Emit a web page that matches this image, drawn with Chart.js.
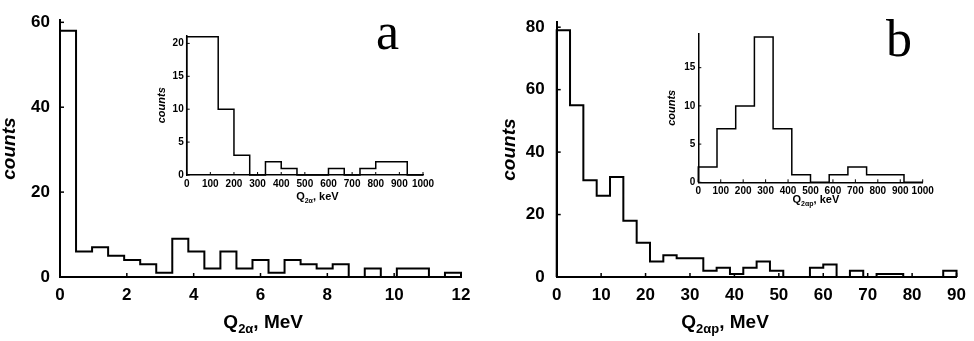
<!DOCTYPE html>
<html>
<head>
<meta charset="utf-8">
<script src="https://cdn.jsdelivr.net/npm/chart.js@4.4.1/dist/chart.umd.min.js"></script>
<style>
body { margin: 0; background: #fff; }
#wrap { position: relative; width: 974px; height: 341px; overflow: hidden; }
canvas { position: absolute; }
.tag { position: absolute; font-family: "Liberation Serif", "Times New Roman", serif; font-size: 52px; line-height: 52px; color: #000; }
</style>
</head>
<body>
<div id="wrap">
  <canvas id="mainA" width="490" height="341" style="left:0;top:0"></canvas>
  <canvas id="mainB" width="484" height="341" style="left:490px;top:0"></canvas>
  <canvas id="insetA" width="300" height="195" style="left:140px;top:20px"></canvas>
  <canvas id="insetB" width="300" height="195" style="left:640px;top:20px"></canvas>
  <div class="tag" style="left:376px;top:6px">a</div>
  <div class="tag" style="left:886px;top:13px">b</div>
</div>
<script>
// counts per bin
const q2aMeV = [58, 6, 7, 5, 4, 3, 1, 9, 6, 2, 6, 2, 4, 1, 4, 3, 2, 3, 0, 2, 0, 2, 2, 0, 1];
const q2aKeV = [21, 21, 10, 3, 0, 2, 1, 0, 0, 1, 0, 1, 2, 2, 0];
const q2apMeV = [79, 55, 31, 26, 32, 18, 11, 5, 7, 6, 6, 2, 3, 1, 3, 5, 2, 0, 0, 3, 4, 0, 2, 0, 1, 1, 0, 0, 0, 2];
const q2apKeV = [2, 7, 10, 19, 7, 1, 0, 1, 2, 1, 1, 0];

// bin widths
const binAMeV = 0.48;
const binAKeV = 1000 / 15;
const binBMeV = 3;
const binBKeV = 1000 / 12;

// tick labels
const ticksAMeV = [0, 2, 4, 6, 8, 10, 12];
const ticksBMeV = [0, 10, 20, 30, 40, 50, 60, 70, 80, 90];
const ticksKeV = [0, 100, 200, 300, 400, 500, 600, 700, 800, 900, 1000];
const countTicksA = [0, 20, 40, 60];
const countTicksB = [0, 20, 40, 60, 80];
const countTicksInA = [0, 5, 10, 15, 20];
const countTicksInB = [0, 5, 10, 15];

const FAM = '"Liberation Sans", Arial, Helvetica, sans-serif';
Chart.defaults.font.family = FAM;
Chart.defaults.color = '#000';

function steps(counts, width) {
    const pts = [{ x: 0, y: 0 }];
    counts.forEach((c, i) => pts.push({ x: i * width, y: c }));
    pts.push({ x: counts.length * width, y: 0 });
    return pts;
}

// x title with subscript
const xTitle = {
    id: 'xTitle',
    afterDraw(chart, args, o) {
        const ctx = chart.ctx;
        const big = 'bold ' + o.size + 'px ' + FAM, small = 'bold ' + o.sub + 'px ' + FAM;
        ctx.save();
        ctx.fillStyle = '#000';
        ctx.textBaseline = 'alphabetic';
        ctx.textAlign = 'left';
        ctx.font = big;
        const w1 = ctx.measureText(o.head).width, w3 = ctx.measureText(o.tail).width;
        ctx.font = small;
        const w2 = ctx.measureText(o.idx).width;
        let x = chart.scales.x.getPixelForValue(o.at) - (w1 + w2 + w3) / 2;
        ctx.font = big; ctx.fillText(o.head, x, o.y); x += w1;
        ctx.font = small; ctx.fillText(o.idx, x, o.y + o.drop); x += w2;
        ctx.font = big; ctx.fillText(o.tail, x, o.y);
        ctx.restore();
    }
};

// tick marks pointing into the plot
const inTicks = {
    id: 'inTicks',
    afterDraw(chart, args, o) {
        const { ctx, scales: { x, y }, chartArea: a } = chart;
        ctx.save();
        ctx.strokeStyle = '#000';
        ctx.lineWidth = o.w;
        x.ticks.forEach(t => {
            const px = x.getPixelForValue(t.value);
            ctx.beginPath(); ctx.moveTo(px, a.bottom); ctx.lineTo(px, a.bottom - o.len); ctx.stroke();
        });
        y.ticks.forEach(t => {
            const py = y.getPixelForValue(t.value);
            ctx.beginPath(); ctx.moveTo(a.left, py); ctx.lineTo(a.left + o.len, py); ctx.stroke();
        });
        ctx.restore();
    }
};

function histo(id, o) {
    return new Chart(document.getElementById(id), {
        type: 'line',
        data: {
            datasets: [{
                data: steps(o.counts, o.bin),
                stepped: true,
                borderColor: '#000',
                borderWidth: o.lw,
                pointRadius: 0,
                fill: false,
                clip: false
            }]
        },
        options: {
            responsive: false,
            animation: false,
            devicePixelRatio: 1,
            layout: { padding: o.pad },
            plugins: {
                legend: { display: false },
                tooltip: { enabled: false },
                xTitle: o.title,
                inTicks: { len: o.tickLen, w: o.tickW }
            },
            scales: {
                x: {
                    type: 'linear', min: 0, max: o.xMax,
                    afterFit: s => { s.height = o.xH; },
                    afterBuildTicks: s => { s.ticks = o.xTicks.map(v => ({ value: v })); },
                    grid: { display: false, drawTicks: false },
                    border: { color: '#000', width: o.lw },
                    ticks: { padding: o.xPad, font: { size: o.fs, weight: 'bold' }, autoSkip: false, maxRotation: 0, minRotation: 0, callback: v => String(v) }
                },
                y: {
                    type: 'linear', min: 0, max: o.yMax,
                    afterFit: s => { s.width = o.yW; },
                    afterBuildTicks: s => { s.ticks = o.yTicks.map(v => ({ value: v })); },
                    grid: { display: false, drawTicks: false },
                    border: { color: '#000', width: o.lw },
                    ticks: { padding: o.yPad, font: { size: o.fs, weight: 'bold' }, callback: v => String(v) },
                    title: { display: true, text: 'counts', padding: 0, font: { size: o.ts, weight: 'bold', style: 'italic', lineHeight: 1 } }
                }
            }
        },
        plugins: [xTitle, inTicks]
    });
}

histo('mainA', {
    counts: q2aMeV, bin: binAMeV, xMax: 12, yMax: 60.5, xTicks: ticksAMeV, yTicks: countTicksA,
    pad: { left: 0, right: 29, top: 9.5, bottom: 0 }, yW: 60, xH: 64,
    lw: 2, fs: 17, ts: 19, xPad: 8, yPad: 10, tickLen: 4, tickW: 1.5,
    title: { head: 'Q', idx: '2α', tail: ', MeV', size: 19, sub: 13, drop: 5, at: 6.08, y: 328 }
});

histo('mainB', {
    counts: q2apMeV, bin: binBMeV, xMax: 90, yMax: 81.6, xTicks: ticksBMeV, yTicks: countTicksB,
    pad: { left: 10.5, right: 15.7, top: 9.8, bottom: 0 }, yW: 56.2, xH: 64,
    lw: 2, fs: 17, ts: 19, xPad: 8, yPad: 12, tickLen: 4, tickW: 1.5,
    title: { head: 'Q', idx: '2αp', tail: ', MeV', size: 19, sub: 13, drop: 5, at: 37.9, y: 328 }
});

histo('insetA', {
    counts: q2aKeV, bin: binAKeV, xMax: 1000, yMax: 21.2, xTicks: ticksKeV, yTicks: countTicksInA,
    pad: { left: 16.2, right: 17, top: 15.5, bottom: 0 }, yW: 30.5, xH: 40,
    lw: 1.5, fs: 10, ts: 11, xPad: 3, yPad: 3, tickLen: 3, tickW: 1,
    title: { head: 'Q', idx: '2α', tail: ', keV', size: 11, sub: 7, drop: 3, at: 553, y: 180 }
});

histo('insetB', {
    counts: q2apKeV, bin: binBKeV, xMax: 1000, yMax: 19.5, xTicks: ticksKeV, yTicks: countTicksInB,
    pad: { left: 26.2, right: 17.3, top: 13.3, bottom: 0 }, yW: 32.1, xH: 32.7,
    lw: 1.5, fs: 10, ts: 11, xPad: 3, yPad: 3, tickLen: 3, tickW: 1,
    title: { head: 'Q', idx: '2αp', tail: ', keV', size: 11, sub: 7, drop: 3, at: 524, y: 183 }
});
</script>
</body>
</html>
